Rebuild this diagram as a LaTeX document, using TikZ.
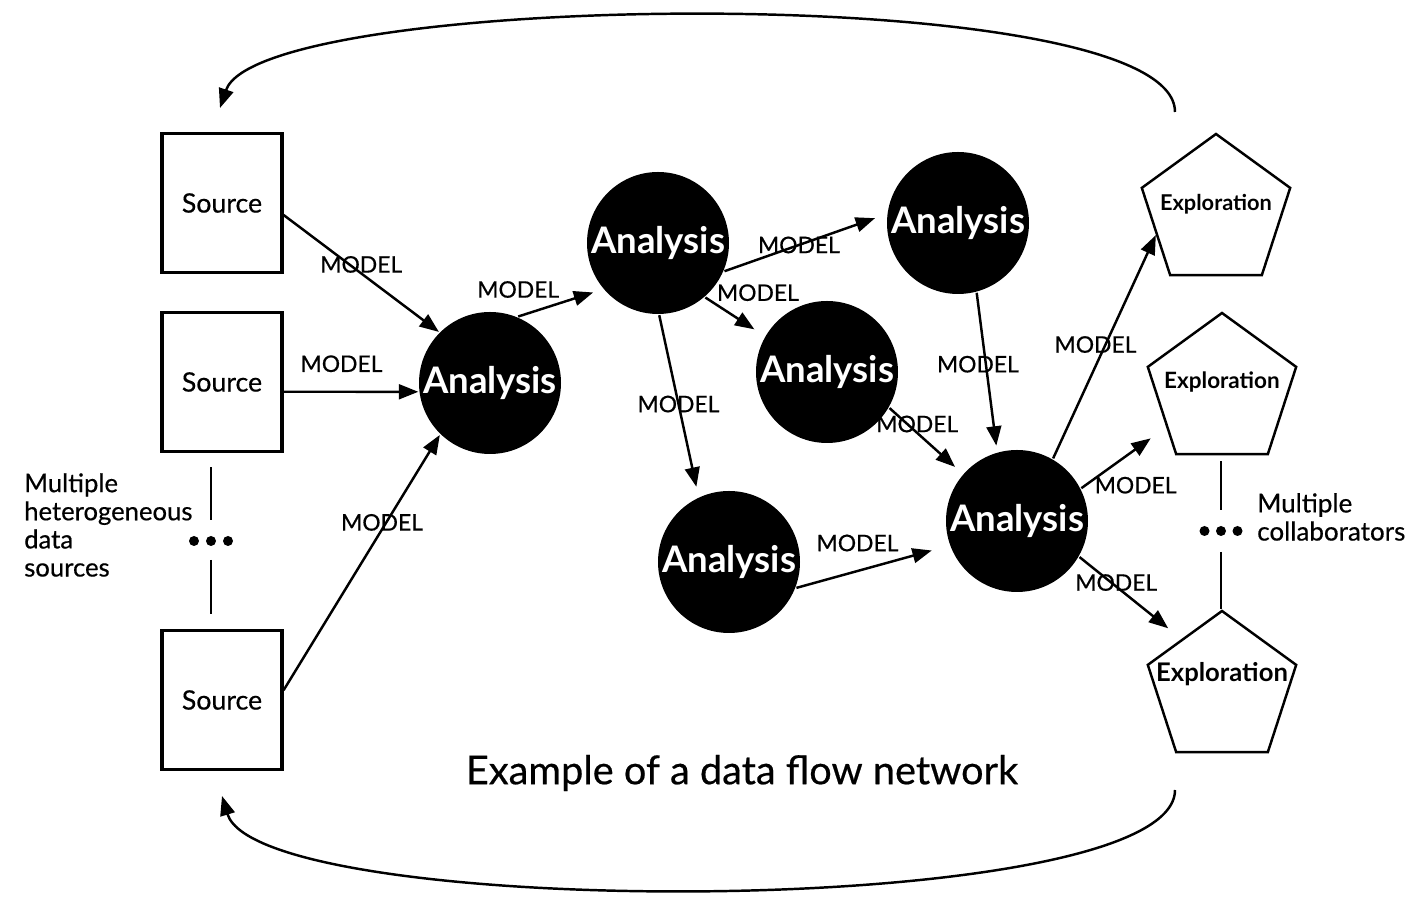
\documentclass[tikz,border=0pt]{standalone}
\usepackage{fontspec}
\setmainfont{Lato}
\newfontfamily\medfont{Lato}[FakeBold=0.5]
\usetikzlibrary{arrows.meta, shapes.geometric, positioning, calc}

\begin{document}
\begin{tikzpicture}[line width=0.7pt, >={Triangle[length=5.5pt,width=4.2pt]},
    source/.style={draw, rectangle, line width=0.9pt, minimum width=1.2cm, minimum height=1.39cm, inner sep=0pt, font=\medfont\fontsize{7.6}{9}\selectfont},
    analysis/.style={circle, fill=black, text=white, minimum size=1.42cm, inner sep=0pt, font=\fontsize{10.4}{11}\selectfont\bfseries},
    explore/.style={regular polygon, regular polygon sides=5, draw, minimum size=1.56cm, inner sep=0pt},
    model/.style={font=\medfont\fontsize{6.5}{7}\selectfont, inner sep=0pt},
    smalldot/.style={circle, fill=black, inner sep=0pt, minimum size=0.1cm}]

      \useasboundingbox (0,0) rectangle (14.22,9.12);

      \node[source] (src1) at (2.22,7.09) {Source};
      \node[source] (src2) at (2.22,5.30) {Source};
      \node[source] (src3) at (2.22,2.12) {Source};

      \node[analysis] (ana1) at (4.90,5.29) {Analysis};
      \node[analysis] (ana2) at (6.58,6.69) {Analysis};
      \node[analysis] (ana3) at (9.58,6.89) {Analysis};
      \node[analysis] (ana4) at (8.27,5.40) {Analysis};
      \node[analysis] (ana5) at (7.29,3.50) {Analysis};
      \node[analysis] (ana6) at (10.17,3.91) {Analysis};

      \node[explore, label={[font=\fontsize{6.2}{8}\selectfont\bfseries, yshift=.8mm]center:Exploration}] (expl1) at (12.16,7.00) {};
      \node[explore, label={[font=\fontsize{6.4}{8}\selectfont\bfseries, yshift=.9mm]center:Exploration}] (expl2) at (12.22,5.21) {};
      \node[explore, label={[font=\fontsize{7.3}{9}\selectfont\bfseries, yshift=1.5mm]center:Exploration}] (expl3) at (12.22,2.23) {};

      \draw[->] (src1.-11) -- node[model, pos=.5, yshift=.9mm] {MODEL} (ana1.135);
      \draw[->] (src2.-9) -- node[model, pos=.43, yshift=2.8mm] {MODEL} (ana1.187);
      \draw[->] (src3.9.5) -- node[model, pos=.63, yshift=.7mm] {MODEL} (ana1.226);

      \draw[->, shorten >=1mm] (ana1.67) -- node[model, pos=0, yshift=2.7mm] {MODEL} (ana2.220);
      \draw[->, shorten >=1.2mm] (ana2.-23) -- node[model, pos=.46] {MODEL} (ana3.173);
      \draw[->, shorten >=1.2mm] (ana2.-49.5) -- node[model, pos=.5, xshift=2.3mm, yshift=2.4mm] {MODEL} (ana4.150);
      \draw[->, shorten >=1mm] (ana2.-89) -- node[model, pos=.49] {MODEL} (ana5.115);

      \draw[->, shorten >=.6mm] (ana3.-75) -- node[model, pos=.45, xshift=-.8mm] {MODEL} (ana6.106.6);
      \draw[->, shorten >=1mm] (ana4.-30) -- node[model, pos=.38, yshift=.9mm] {MODEL} (ana6.139.5);
      \draw[->, shorten >=1.8mm] (ana5.-21.5) -- node[model, pos=.4, yshift=2.8mm] {MODEL} (ana6.200);

      \draw[->] (ana6.60) -- node[model, pos=.51, xshift=-1mm] {MODEL} (expl1.201.5);
      \draw[->, shorten >=1.9mm] (ana6.27.6) -- node[model, pos=.64, yshift=-3.6mm] {MODEL} (expl2.213);
      \draw[->, shorten >=1.7mm] (ana6.-30.4) -- node[model, pos=.36, yshift=.4mm] {MODEL} (expl3.129);

      \coordinate (ldots) at (2.11,3.71);
      \coordinate (rdots) at (12.21,3.81);
      \node[smalldot] (ldot1) at ($(ldots)+(-.17,0)$) {};
      \node[smalldot] (ldot2) at (ldots) {};
      \node[smalldot] (ldot3) at ($(ldots)+(.17,0)$) {};
      \node[smalldot] (rdot1) at ($(rdots)+(-.165,0)$) {};
      \node[smalldot] (rdot2) at (rdots) {};
      \node[smalldot] (rdot3) at ($(rdots)+(.165,0)$) {};
      \draw[shorten <=1.4mm, shorten >=2.1mm] (ldots |- src2.south) -- (ldots);
      \draw[shorten <=1.9mm, shorten >=1.5mm] (ldots) -- (ldots |- src3.north);
      \draw[shorten <=.6mm, shorten >=2.1mm] (rdots |- expl2.south) -- (rdots);
      \draw[shorten <=2.1mm] (rdots) -- (rdots |- expl3.north);

      \node[anchor=west, align=left, inner sep=0pt, font=\medfont\fontsize{7.3}{8}\selectfont] (srctext) at (0.23,3.87) {Multiple\\heterogeneous\\data\\sources};
      \node[anchor=west, align=left, inner sep=0pt, font=\medfont\fontsize{7.4}{8}\selectfont] (collabtext) at (12.56,3.95) {Multiple\\collaborators};
      \node[font=\medfont\fontsize{11.3}{13}\selectfont] (title) at (7.42,1.39) {Example of a data flow network};

      \coordinate (topR) at (11.75,8.00);
      \coordinate (topL) at (2.20,8.04);
      \coordinate (botR) at (11.75,1.22);
      \coordinate (botL) at (2.22,1.16);
      \draw[->] (topR) .. controls (11.75,9.33) and (2.6,9.22) .. (topL);
      \draw[->] (botR) .. controls (11.75,-0.09) and (2.6,-0.09) .. (botL);

    \end{tikzpicture}
\end{document}
